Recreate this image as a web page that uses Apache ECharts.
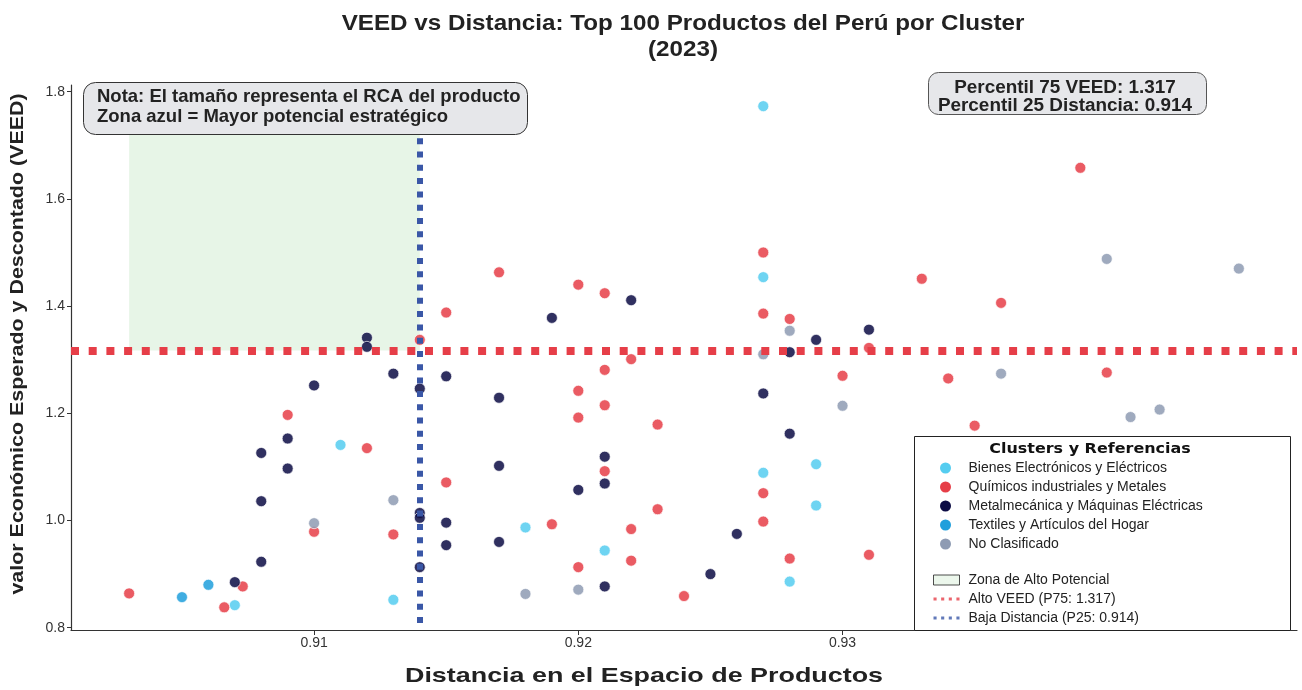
<!DOCTYPE html>
<html>
<head>
<meta charset="utf-8">
<title>VEED vs Distancia</title>
<script src="https://cdn.jsdelivr.net/npm/echarts@6/dist/echarts.min.js"></script>
<style>
  html, body { margin: 0; padding: 0; background: #fff; }
  #chart { width: 1302px; height: 690px; }
</style>
</head>
<body>
<div id="chart"></div>
<script>
// [distancia, veed] por cluster
var bienes = [
    [0.911, 1.141], [0.913, 0.852], [0.907, 0.842], [0.918, 0.987], [0.921, 0.944],
    [0.927, 1.089], [0.929, 1.105], [0.929, 1.028], [0.928, 0.886], [0.927, 1.454],
    [0.927, 1.773]
];
var quimicos = [
    [0.903, 0.864], [0.9066, 0.838], [0.9073, 0.877], [0.909, 1.197], [0.910, 0.979],
    [0.912, 1.135], [0.913, 0.974], [0.914, 1.337], [0.915, 1.388], [0.915, 1.071],
    [0.917, 1.463], [0.920, 1.440], [0.921, 1.424], [0.922, 1.301], [0.921, 1.281],
    [0.920, 1.242], [0.921, 1.215], [0.920, 1.192], [0.923, 1.179], [0.921, 1.092],
    [0.923, 1.021], [0.919, 0.993], [0.922, 0.984], [0.922, 0.925], [0.920, 0.913],
    [0.924, 0.859], [0.927, 1.500], [0.927, 1.386], [0.928, 1.376], [0.931, 1.322],
    [0.933, 1.451], [0.936, 1.406], [0.939, 1.658], [0.930, 1.270], [0.934, 1.265],
    [0.935, 1.177], [0.940, 1.276], [0.927, 1.051], [0.927, 0.998], [0.928, 0.929],
    [0.931, 0.936]
];
var metalmecanica = [
    [0.912, 1.341], [0.912, 1.324], [0.913, 1.274], [0.915, 1.269], [0.910, 1.252],
    [0.914, 1.246], [0.917, 1.229], [0.909, 1.153], [0.908, 1.126], [0.909, 1.097],
    [0.917, 1.102], [0.908, 1.036], [0.914, 1.014], [0.914, 1.005], [0.915, 0.996],
    [0.915, 0.954], [0.917, 0.960], [0.908, 0.923], [0.914, 0.913], [0.907, 0.885],
    [0.919, 1.378], [0.922, 1.411], [0.929, 1.337], [0.931, 1.356], [0.928, 1.314],
    [0.927, 1.237], [0.928, 1.162], [0.921, 1.119], [0.921, 1.069], [0.920, 1.057],
    [0.926, 0.975], [0.925, 0.900], [0.921, 0.877]
];
var textiles = [
    [0.906, 0.880], [0.905, 0.857]
];
var noClasificado = [
    [0.910, 0.995], [0.913, 1.038], [0.918, 0.863], [0.920, 0.871], [0.928, 1.354],
    [0.927, 1.310], [0.930, 1.214], [0.936, 1.274], [0.940, 1.488], [0.945, 1.470],
    [0.9409, 1.193], [0.942, 1.207]
];

var clusterNames = [
    'Bienes Electrónicos y Eléctricos',
    'Químicos industriales y Metales',
    'Metalmecánica y Máquinas Eléctricas',
    'Textiles y Artículos del Hogar',
    'No Clasificado'
];
var clusterData = [bienes, quimicos, metalmecanica, textiles, noClasificado];
var clusterColors = ['#55cdf0', '#e63e48', '#0c0c44', '#1f9fdc', '#8e9bb3'];

var p75Veed = 1.317;
var p25Dist = 0.914;
var zonaDistMin = 0.903;
var zonaVeedMax = 1.773;
var xRange = [0.9008, 0.9472];
var yRange = [0.7957, 1.8125];
var xTicks = [0.91, 0.92, 0.93];
var yTicks = [0.8, 1.0, 1.2, 1.4, 1.6, 1.8];

var refNames = ['Zona de Alto Potencial', 'Alto VEED (P75: 1.317)', 'Baja Distancia (P25: 0.914)'];

(function () {
    var mychart = echarts.init(document.getElementById('chart'));
    var font = 'Liberation Sans';
    var dots = 'path://M0,0h3v3h-3zM7.4,0h3v3h-3zM14.8,0h3v3h-3zM22.2,0h3v3h-3z';

    var series = clusterData.map(function (d, i) {
        return {
            name: clusterNames[i],
            type: 'scatter',
            data: d,
            symbolSize: 11,
            itemStyle: {
                color: clusterColors[i],
                opacity: 0.85,
                borderColor: '#fff',
                borderWidth: 0.8
            },
            z: 3
        };
    });

    // zona verde
    series.unshift({
        name: refNames[0],
        type: 'scatter',
        data: [],
        z: 1,
        markArea: {
            silent: true,
            itemStyle: { color: '#e7f5e7' },
            data: [[{ coord: [zonaDistMin, p75Veed] }, { coord: [p25Dist, zonaVeedMax] }]]
        }
    });
    // linea P75
    series.push({
        name: refNames[1],
        type: 'scatter',
        data: [],
        z: 5,
        markLine: {
            silent: true,
            symbol: 'none',
            precision: 4,
            label: { show: false },
            lineStyle: { color: '#e63e48', width: 8, type: [8, 9.7], opacity: 1 },
            data: [[{ coord: [xRange[0], p75Veed] }, { coord: [xRange[1], p75Veed] }]]
        }
    });
    // linea P25
    series.push({
        name: refNames[2],
        type: 'scatter',
        data: [],
        z: 6,
        markLine: {
            silent: true,
            symbol: 'none',
            precision: 4,
            label: { show: false },
            lineStyle: { color: '#3a57a7', width: 6, type: [6, 7.3], opacity: 1 },
            data: [[{ coord: [p25Dist, yRange[1]] }, { coord: [p25Dist, yRange[0]] }]]
        }
    });

    var option = {
        animation: false,
        textStyle: { fontFamily: font },
        grid: { left: 71, right: 5, top: 85, bottom: 60 },
        xAxis: {
            type: 'value',
            min: xRange[0],
            max: xRange[1],
            splitLine: { show: false },
            axisLine: { lineStyle: { color: '#333', width: 1.2 } },
            axisTick: { customValues: xTicks, length: 5, lineStyle: { color: '#333' } },
            axisLabel: { customValues: xTicks, fontSize: 14, color: '#333', margin: 6 }
        },
        yAxis: {
            type: 'value',
            min: yRange[0],
            max: yRange[1],
            splitLine: { show: false },
            axisLine: { show: true, lineStyle: { color: '#333', width: 1.2 } },
            axisTick: { show: true, customValues: yTicks, length: 4, lineStyle: { color: '#333' } },
            axisLabel: {
                customValues: yTicks, fontSize: 14, color: '#333', margin: 6,
                formatter: function (v) { return v.toFixed(1); }
            }
        },
        legend: [
            {
                orient: 'vertical',
                left: 935,
                top: 455,
                itemWidth: 36,
                itemHeight: 11,
                itemGap: 3,
                symbolKeepAspect: true,
                selectedMode: false,
                z: 20,
                textStyle: { fontSize: 14, color: '#222', lineHeight: 16, fontFamily: font },
                data: clusterNames.map(function (n, i) {
                    return { name: n, icon: 'circle', itemStyle: { color: clusterColors[i], opacity: 1, borderWidth: 0 } };
                })
            },
            {
                orient: 'vertical',
                left: 928,
                top: 567,
                itemWidth: 26,
                itemHeight: 11,
                itemGap: 3,
                symbolKeepAspect: true,
                selectedMode: false,
                z: 20,
                textStyle: { fontSize: 14, color: '#222', lineHeight: 16, fontFamily: font, padding: [0, 0, 0, 4] },
                data: [
                    { name: refNames[0], icon: 'path://M0,0h26v10h-26z', itemStyle: { color: '#e7f5e7', borderColor: '#222', borderWidth: 1 } },
                    { name: refNames[1], icon: dots, itemStyle: { color: '#e63e48', borderWidth: 0 } },
                    { name: refNames[2], icon: dots, itemStyle: { color: '#3a57a7', borderWidth: 0 } }
                ]
            }
        ],
        graphic: [
            // titulo
            {
                type: 'text', z: 16, x: 683, y: 37, scaleX: 1.1,
                style: {
                    text: 'VEED vs Distancia: Top 100 Productos del Perú por Cluster\n(2023)',
                    font: 'bold 22px Liberation Sans', lineHeight: 26,
                    fill: '#222', align: 'center', verticalAlign: 'middle'
                }
            },
            // titulo eje x
            {
                type: 'text', z: 16, x: 644, y: 676, scaleX: 1.28,
                style: {
                    text: 'Distancia en el Espacio de Productos',
                    font: 'bold 21px Liberation Sans',
                    fill: '#222', align: 'center', verticalAlign: 'middle'
                }
            },
            // titulo eje y
            {
                type: 'text', z: 16, x: 18, y: 344, rotation: Math.PI / 2, scaleX: 1.19,
                style: {
                    text: 'valor Económico Esperado y Descontado (VEED)',
                    font: 'bold 18px Liberation Sans',
                    fill: '#222', align: 'center', verticalAlign: 'middle'
                }
            },
            {
                type: 'rect', z: 15,
                shape: { x: 914.5, y: 436.5, width: 376, height: 194 },
                style: { fill: '#fff', stroke: '#222', lineWidth: 1 }
            },
            {
                type: 'text', z: 16, x: 1090, y: 449, scaleX: 1.14,
                style: {
                    text: 'Clusters y Referencias',
                    font: 'bold 14px DejaVu Sans',
                    fill: '#111', align: 'center', verticalAlign: 'middle'
                }
            },
            {
                type: 'rect', z: 15,
                shape: { x: 83.5, y: 82.5, width: 444, height: 52, r: 12 },
                style: { fill: '#e6e7ea', stroke: '#333', lineWidth: 1 }
            },
            {
                type: 'text', z: 16, x: 97, y: 107,
                style: {
                    text: 'Nota: El tamaño representa el RCA del producto\nZona azul = Mayor potencial estratégico',
                    font: 'bold 18.5px Liberation Sans', lineHeight: 20.5,
                    fill: '#222', align: 'left', verticalAlign: 'middle'
                }
            },
            {
                type: 'rect', z: 15,
                shape: { x: 928.5, y: 72.5, width: 278, height: 42, r: 10 },
                style: { fill: '#e6e7ea', stroke: '#555', lineWidth: 1 }
            },
            {
                type: 'text', z: 16, x: 1065, y: 97, scaleX: 1.08,
                style: {
                    text: 'Percentil 75 VEED: 1.317\nPercentil 25 Distancia: 0.914',
                    font: 'bold 17.5px Liberation Sans', lineHeight: 17.5,
                    fill: '#222', align: 'center', verticalAlign: 'middle'
                }
            }
        ],
        series: series
    };
    mychart.setOption(option);
    window.addEventListener('resize', function () {
        mychart.resize();
    });
})();
</script>
</body>
</html>
